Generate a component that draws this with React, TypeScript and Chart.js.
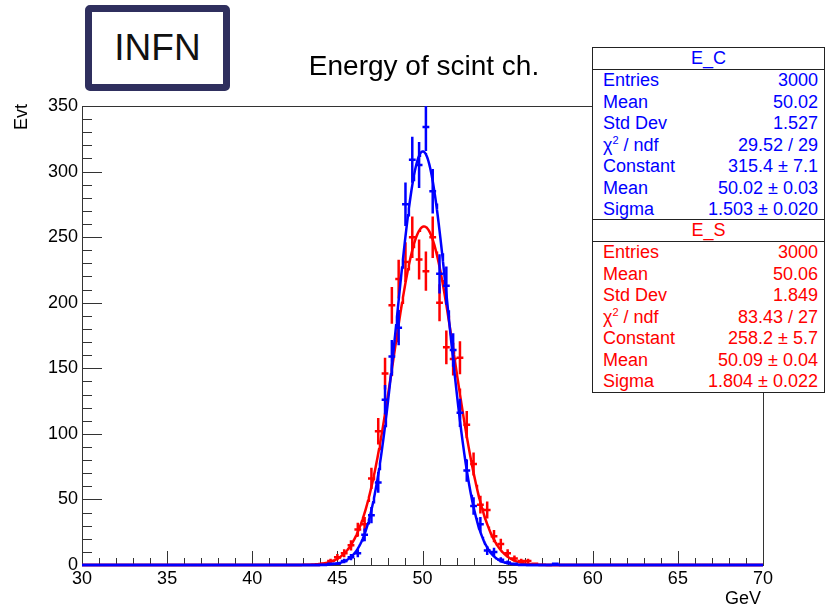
import React, { useEffect, useRef } from 'react';
import { Chart, registerables } from 'chart.js';

Chart.register(...registerables);

const FONT = "'Liberation Sans', Arial, Helvetica, sans-serif";

// Histogram binning (GeV): 100 bins of 0.4 GeV between 30 and 70
const histMin = 30;
const histMax = 70;
const binWidth = 0.4;

// E_C (blue) counts per bin
const eCCounts = [
  0, 0, 0, 0, 0, 0, 0, 0, 0, 0, // 30.2 - 33.8
  0, 0, 0, 0, 0, 0, 0, 0, 0, 0, // 34.2 - 37.8
  0, 0, 0, 0, 0, 0, 0, 0, 0, 0, // 38.2 - 41.8
  0, 0, 0, 0, 0, 0, 1, 1, 3, 6, // 42.2 - 45.8
  9, 23, 38, 63, 126, 159, 181, 275, 309, 305, // 46.2 - 49.8
  334, 285, 222, 213, 164, 116, 72, 45, 31, 11, // 50.2 - 53.8
  10, 4, 2, 1, 0, 0, 0, 0, 0, 1, // 54.2 - 57.8
  0, 0, 0, 0, 0, 0, 0, 0, 0, 0, // 58.2 - 61.8
  0, 0, 0, 0, 0, 0, 0, 0, 0, 0, // 62.2 - 65.8
  0, 0, 0, 0, 0, 0, 0, 0, 0, 0, // 66.2 - 69.8
];

// E_S (red) counts per bin
const eSCounts = [
  0, 0, 0, 0, 0, 0, 0, 0, 0, 0,
  0, 0, 0, 0, 0, 0, 0, 0, 0, 0,
  0, 0, 0, 0, 0, 0, 0, 0, 0, 0,
  0, 0, 0, 0, 0, 1, 3, 6, 9, 15,
  27, 31, 66, 102, 146, 198, 218, 231, 250, 233,
  224, 250, 200, 166, 157, 158, 107, 77, 46, 42,
  22, 16, 9, 5, 3, 3, 1, 0, 0, 0,
  0, 0, 0, 0, 0, 0, 0, 0, 0, 0,
  0, 0, 0, 0, 0, 0, 0, 0, 0, 0,
  0, 0, 0, 0, 0, 0, 0, 0, 0, 0,
];

// Gaussian fit parameters (from the stats boxes)
const eCFit = { constant: 315.4, mean: 50.02, sigma: 1.503 };
const eSFit = { constant: 258.2, mean: 50.09, sigma: 1.804 };

// Axis ticks
const xTickLabels = [30, 35, 40, 45, 50, 55, 60, 65, 70];
const yTickLabels = [0, 50, 100, 150, 200, 250, 300, 350];
const xMinorStep = 1;
const yMinorStep = 10;

// Stats box contents
const eCStats: [string, string][] = [
  ['Entries', '3000'],
  ['Mean', '50.02'],
  ['Std Dev', '1.527'],
  ['chi2', '29.52 / 29'],
  ['Constant', '315.4 \u00b1 7.1'],
  ['Mean', '50.02 \u00b1 0.03'],
  ['Sigma', '1.503 \u00b1 0.020'],
];
const eSStats: [string, string][] = [
  ['Entries', '3000'],
  ['Mean', '50.06'],
  ['Std Dev', '1.849'],
  ['chi2', '83.43 / 27'],
  ['Constant', '258.2 \u00b1 5.7'],
  ['Mean', '50.09 \u00b1 0.04'],
  ['Sigma', '1.804 \u00b1 0.022'],
];

const BLUE = '#0000ff';
const RED = '#ff0000';

function histPoints(counts: number[]) {
  return counts.map((c, i) => ({ x: histMin + (i + 0.5) * binWidth, y: c }));
}

function fitPoints(p: { constant: number; mean: number; sigma: number }) {
  const pts: { x: number; y: number }[] = [];
  const n = 800;
  for (let i = 0; i <= n; i++) {
    const x = histMin + ((histMax - histMin) * i) / n;
    const d = (x - p.mean) / p.sigma;
    pts.push({ x, y: p.constant * Math.exp(-0.5 * d * d) });
  }
  return pts;
}

const errorBarPlugin = {
  id: 'errorBars',
  afterDatasetDraw(chart: any, args: any) {
    const ds = chart.data.datasets[args.index];
    if (!ds.isHist) return;
    const { ctx, chartArea: a, scales } = chart;
    const xs = scales.x;
    const ys = scales.y;
    ctx.save();
    ctx.beginPath();
    ctx.rect(a.left - 2, a.top, a.right - a.left + 4, a.bottom - a.top + 3);
    ctx.clip();
    ctx.strokeStyle = ds.borderColor;
    ctx.lineWidth = 2.5;
    ctx.lineCap = 'butt';
    ctx.beginPath();
    for (const p of ds.data) {
      const px = xs.getPixelForValue(p.x);
      const l = xs.getPixelForValue(p.x - binWidth / 2);
      const r = xs.getPixelForValue(p.x + binWidth / 2);
      const py = ys.getPixelForValue(p.y);
      ctx.moveTo(l, py);
      ctx.lineTo(r, py);
      if (p.y > 0) {
        const e = Math.sqrt(p.y);
        ctx.moveTo(px, ys.getPixelForValue(p.y - e));
        ctx.lineTo(px, ys.getPixelForValue(p.y + e));
      }
    }
    ctx.stroke();
    ctx.restore();
  },
};

const framePlugin = {
  id: 'rootFrame',
  beforeDatasetsDraw(chart: any) {
    const { ctx, chartArea: a, scales } = chart;
    const xs = scales.x;
    const ys = scales.y;
    ctx.save();
    ctx.strokeStyle = '#333';
    ctx.lineWidth = 1;
    ctx.strokeRect(Math.round(a.left) + 0.5, Math.round(a.top) + 0.5, Math.round(a.right - a.left), Math.round(a.bottom - a.top));
    ctx.beginPath();
    const xMin = xTickLabels[0];
    const xMax = xTickLabels[xTickLabels.length - 1];
    const xMajor = xTickLabels[1] - xTickLabels[0];
    for (let v = xMin; v <= xMax + 1e-9; v += xMinorStep) {
      const px = Math.round(xs.getPixelForValue(v)) + 0.5;
      const major = Math.abs(v / xMajor - Math.round(v / xMajor)) < 1e-6;
      const len = major ? 14 : 7;
      ctx.moveTo(px, a.bottom);
      ctx.lineTo(px, a.bottom - len);
    }
    const yMin = yTickLabels[0];
    const yMax = yTickLabels[yTickLabels.length - 1];
    const yMajor = yTickLabels[1] - yTickLabels[0];
    for (let v = yMin; v <= yMax + 1e-9; v += yMinorStep) {
      const py = Math.round(ys.getPixelForValue(v)) + 0.5;
      const major = Math.abs(v / yMajor - Math.round(v / yMajor)) < 1e-6;
      const len = major ? 20 : 10;
      ctx.moveTo(a.left, py);
      ctx.lineTo(a.left + len, py);
    }
    ctx.stroke();
    ctx.restore();
  },
};

function ChiLabel() {
  return (
    <span>
      {'\u03c7'}
      <span style={{ fontSize: 11, position: 'relative', top: -7 }}>2</span>
      {' / ndf'}
    </span>
  );
}

function StatsBox({ title, color, rows, top }: { title: string; color: string; rows: [string, string][]; top: number }) {
  return (
    <div
      style={{
        position: 'absolute',
        left: 592,
        top,
        width: 233,
        height: 174,
        border: '1px solid #222',
        boxSizing: 'border-box',
        background: '#fff',
        color,
        fontFamily: FONT,
        fontSize: 18,
      }}
    >
      <div style={{ height: 21, lineHeight: '21px', borderBottom: '1px solid #222', textAlign: 'center' }}>{title}</div>
      {rows.map(([k, v], i) => (
        <div
          key={i}
          style={{
            height: 21.5,
            lineHeight: '21.5px',
            display: 'flex',
            justifyContent: 'space-between',
            paddingLeft: 10,
            paddingRight: 6,
            whiteSpace: 'nowrap',
          }}
        >
          <span>{k === 'chi2' ? <ChiLabel /> : k}</span>
          <span>{v}</span>
        </div>
      ))}
    </div>
  );
}

export default function App() {
  const canvasRef = useRef<HTMLCanvasElement>(null);

  useEffect(() => {
    const canvas = canvasRef.current;
    if (!canvas) return;
    const tickFont = { family: FONT, size: 18 };
    const chart = new Chart(canvas, {
      type: 'scatter',
      data: {
        datasets: [
          {
            label: 'E_C fit',
            data: fitPoints(eCFit),
            showLine: true,
            borderColor: BLUE,
            borderWidth: 2.5,
            pointRadius: 0,
            order: 0,
            clip: { left: 0, top: 0, right: 0, bottom: 3 },
          } as any,
          {
            label: 'E_C',
            data: histPoints(eCCounts),
            showLine: false,
            borderColor: BLUE,
            backgroundColor: BLUE,
            pointRadius: 0,
            order: 1,
            isHist: true,
          } as any,
          {
            label: 'E_S fit',
            data: fitPoints(eSFit),
            showLine: true,
            borderColor: RED,
            borderWidth: 2.5,
            pointRadius: 0,
            order: 2,
            clip: { left: 0, top: 0, right: 0, bottom: 3 },
          } as any,
          {
            label: 'E_S',
            data: histPoints(eSCounts),
            showLine: false,
            borderColor: RED,
            backgroundColor: RED,
            pointRadius: 0,
            order: 3,
            isHist: true,
          } as any,
        ],
      },
      options: {
        animation: false,
        responsive: false,
        devicePixelRatio: 1,
        events: [],
        layout: { padding: { left: 0, top: 106, right: 62, bottom: 0 } },
        plugins: {
          legend: { display: false },
          tooltip: { enabled: false },
          title: { display: false },
        },
        scales: {
          x: {
            type: 'linear',
            min: histMin,
            max: histMax,
            grid: { display: false, drawTicks: false },
            border: { display: false },
            ticks: {
              stepSize: 5,
              autoSkip: false,
              maxRotation: 0,
              color: '#000',
              font: tickFont,
              padding: 3,
            },
            afterFit: (s: any) => {
              s.height = 44;
            },
          },
          y: {
            type: 'linear',
            min: 0,
            max: 350,
            grid: { display: false, drawTicks: false },
            border: { display: false },
            ticks: {
              stepSize: 50,
              autoSkip: false,
              color: '#000',
              font: tickFont,
              padding: 4,
            },
            afterFit: (s: any) => {
              s.width = 82;
            },
          },
        },
      } as any,
      plugins: [framePlugin, errorBarPlugin],
    });
    return () => chart.destroy();
  }, []);

  return (
    <div
      style={{
        position: 'absolute',
        left: 0,
        top: 0,
        width: 825,
        height: 609,
        background: '#fff',
        overflow: 'hidden',
        fontFamily: FONT,
      }}
    >
      <canvas ref={canvasRef} width={825} height={609} style={{ position: 'absolute', left: 0, top: 0, width: 825, height: 609 }} />
      <div
        style={{
          position: 'absolute',
          left: 85,
          top: 5,
          width: 145,
          height: 86,
          border: '7px solid #2f2f5e',
          borderRadius: 5,
          boxSizing: 'border-box',
          display: 'flex',
          alignItems: 'center',
          justifyContent: 'center',
          fontSize: 37,
          color: '#111',
          background: '#fff',
        }}
      >
        INFN
      </div>
      <div
        style={{
          position: 'absolute',
          left: 424,
          top: 66,
          transform: 'translate(-50%, -50%)',
          fontSize: 28,
          whiteSpace: 'nowrap',
          color: '#000',
          lineHeight: 1,
        }}
      >
        Energy of scint ch.
      </div>
      <div
        style={{
          position: 'absolute',
          left: 21,
          top: 117,
          transform: 'translate(-50%, -50%) rotate(-90deg)',
          fontSize: 18,
          whiteSpace: 'nowrap',
          color: '#000',
          lineHeight: 1,
        }}
      >
        Evt
      </div>
      <div
        style={{
          position: 'absolute',
          right: 825 - 761,
          top: 589,
          fontSize: 18,
          whiteSpace: 'nowrap',
          color: '#000',
          lineHeight: 1,
        }}
      >
        GeV
      </div>
      <StatsBox title="E_C" color={BLUE} rows={eCStats} top={47} />
      <StatsBox title="E_S" color={RED} rows={eSStats} top={219} />
    </div>
  );
}
